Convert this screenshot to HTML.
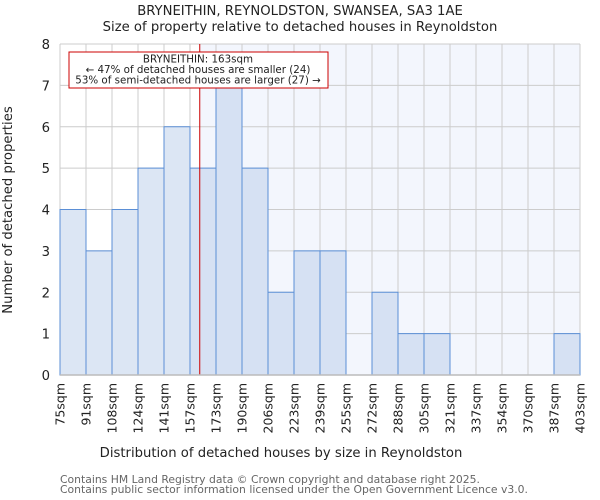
<!DOCTYPE html>
<html><head><meta charset="utf-8"><style>
body{margin:0;background:#fff}
svg{display:block;font-family:"DejaVu Sans","Liberation Sans",sans-serif}
</style></head><body>
<svg id="chart" width="600" height="500" viewBox="0 0 600 500">
<text x="300" y="15" text-anchor="middle" font-size="13.2" fill="#222">BRYNEITHIN, REYNOLDSTON, SWANSEA, SA3 1AE</text>
<text x="300" y="31" text-anchor="middle" font-size="13.2" fill="#222">Size of property relative to detached houses in Reynoldston</text>
<g id="plot"></g>
<text x="281" y="457" text-anchor="middle" font-size="13.2" fill="#222">Distribution of detached houses by size in Reynoldston</text>
<text transform="translate(12,210) rotate(-90)" text-anchor="middle" font-size="13.2" fill="#222">Number of detached properties</text>
<text x="60" y="483" font-size="10.8" fill="#666">Contains HM Land Registry data © Crown copyright and database right 2025.</text>
<text x="60" y="493" font-size="10.8" fill="#666">Contains public sector information licensed under the Open Government Licence v3.0.</text>
</svg>
<script>
const binEdges=[75,91,108,124,141,157,173,190,206,223,239,255,272,288,305,321,337,354,370,387,403];
const tickLabels=["75sqm","91sqm","108sqm","124sqm","141sqm","157sqm","173sqm","190sqm","206sqm","223sqm","239sqm","255sqm","272sqm","288sqm","305sqm","321sqm","337sqm","354sqm","370sqm","387sqm","403sqm"];
const counts=[4,3,4,5,6,5,7,5,2,3,3,0,2,1,1,0,0,0,0,1];
const yTicks=[0,1,2,3,4,5,6,7,8];
const markerIndex=5.375;
const annotLines=["BRYNEITHIN: 163sqm","← 47% of detached houses are smaller (24)","53% of semi-detached houses are larger (27) →"];
const NS="http://www.w3.org/2000/svg";
const L=60,R=580,T=44,B=375,yMax=8;
const n=counts.length;
const xIdx=i=>L+(R-L)*i/n;
const y=v=>B-(B-T)*v/yMax;
const g=document.getElementById('plot');
function mk(tag,attrs){const e=document.createElementNS(NS,tag);for(const k in attrs)e.setAttribute(k,attrs[k]);g.appendChild(e);return e;}
const mx=xIdx(markerIndex);
let bg=mk('rect',{x:mx,y:T,width:R-mx,height:B-T,fill:'#f3f6fd'});


for(let i=0;i<=n;i++){const l=mk('line',{x1:xIdx(i),x2:xIdx(i),y1:T,y2:B,stroke:'#cccccc','stroke-width':1});

}
yTicks.forEach(v=>{const l=mk('line',{x1:L,x2:R,y1:y(v),y2:y(v),stroke:'#cccccc','stroke-width':1});


const t=mk('text',{x:L-10,y:y(v)+5,'text-anchor':'end','font-size':13.2,fill:'#222'});t.textContent=v;

});
counts.forEach((c,i)=>{if(c<=0)return;const r=mk('rect',{x:xIdx(i),y:y(c),width:xIdx(i+1)-xIdx(i),height:B-y(c),fill:(i+1)<=markerIndex?'#dce6f4':'#d6e1f3',stroke:'#5b8fd6','stroke-width':1});

});
tickLabels.forEach((s,i)=>{const xx=xIdx(i);const t=mk('text',{transform:`translate(${xx+4.5},${B+8}) rotate(-90)`,'text-anchor':'end','font-size':12.5,fill:'#222'});t.textContent=s;

});
const ml=mk('line',{x1:mx,x2:mx,y1:T,y2:B,stroke:'#cc0000','stroke-width':1});


const box=mk('rect',{x:69,y:52,width:259,height:36,fill:'#fff',stroke:'#cc0000','stroke-width':1});


annotLines.forEach((s,i)=>{const t=mk('text',{x:198,y:62.5+i*10.5,'text-anchor':'middle','font-size':10.3,fill:'#222'});t.textContent=s;

});
const ax=mk('line',{x1:L,x2:R,y1:B,y2:B,stroke:'#bbb','stroke-width':1.5});


</script>
</body></html>
